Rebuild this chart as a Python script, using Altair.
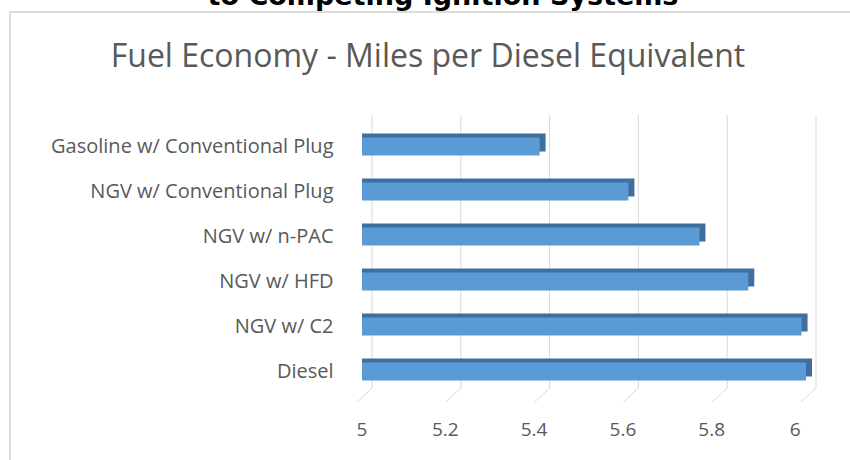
import altair as alt
import pandas as pd

categories = [
    "Gasoline w/ Conventional Plug",
    "NGV w/ Conventional Plug",
    "NGV w/ n-PAC",
    "NGV w/ HFD",
    "NGV w/ C2",
    "Diesel",
]
values = [5.40, 5.60, 5.76, 5.87, 5.99, 6.00]
tick_values = [5, 5.2, 5.4, 5.6, 5.8, 6]
chart_title = "Fuel Economy - Miles per Diesel Equivalent"
page_title = "to Competing Ignition Systems"

FRONT = "#5B9BD5"
DARK = "#3F6F9F"
GREY = "#595959"
FONT = "Open Sans"

W, H = 444, 270

df = pd.DataFrame({"cat": categories, "val": values})
ticks = pd.DataFrame({"v": tick_values})

xscale = alt.Scale(domain=[5, 6], zero=False, nice=False)
yenc = alt.Y("cat:N", sort=None, title=None,
             axis=alt.Axis(grid=False, domain=False, ticks=False, labelPadding=29,
                           labelFontSize=20, labelColor=GREY, labelFont=FONT,
                           labelLimit=400, zindex=2))

grid = alt.Chart(ticks).mark_rule(color="#d9d9d9", strokeWidth=1, xOffset=10).encode(
    x=alt.X("v:Q", scale=xscale, title=None,
            axis=alt.Axis(values=tick_values, format="~g", grid=False, domain=False,
                          ticks=False, labelOffset=-6, labelPadding=26,
                          labelFontSize=19, labelColor=GREY, labelFont=FONT, zindex=2)),
    y=alt.value(-9),
    y2=alt.value(264),
)

floor = alt.Chart(ticks).mark_rule(color="#d9d9d9", strokeWidth=1, xOffset=10, x2Offset=-5).encode(
    x=alt.X("v:Q", scale=xscale),
    x2="v:Q",
    y=alt.value(264),
    y2=alt.value(278),
)

back = alt.Chart(df).mark_bar(size=18, xOffset=6, yOffset=-4, color=DARK).encode(
    x=alt.X("val:Q", scale=xscale),
    x2=alt.datum(5),
    y=yenc,
)

front = alt.Chart(df).mark_bar(size=18, color=FRONT).encode(
    x=alt.X("val:Q", scale=xscale),
    x2=alt.datum(5),
    y=yenc,
)

title_txt = alt.Chart(pd.DataFrame({"t": [chart_title]})).mark_text(
    font=FONT, fontSize=32, color=GREY, align="center", baseline="alphabetic"
).encode(text="t:N", x=alt.value(66), y=alt.value(-57))

top_txt = alt.Chart(pd.DataFrame({"t": [page_title]})).mark_text(
    font="DejaVu Sans", fontWeight="bold", fontSize=27, color="#000000",
    align="center", baseline="alphabetic"
).encode(text="t:N", x=alt.value(81), y=alt.value(-119))

border = alt.Chart(pd.DataFrame({"t": [0]})).mark_rect(
    fillOpacity=0, stroke="#d0d0d0", strokeWidth=1.5
).encode(x=alt.value(-352), x2=alt.value(600), y=alt.value(-112), y2=alt.value(400))

chart = alt.layer(border, grid, floor, back, front, title_txt, top_txt).properties(
    width=W, height=H,
    autosize=alt.AutoSizeParams(type="none"),
    padding={"left": 362, "top": 124, "right": 44, "bottom": 66},
    background="white",
).configure_view(stroke=None)

chart.save("out.html", embed_options={"renderer": "svg", "actions": False})
